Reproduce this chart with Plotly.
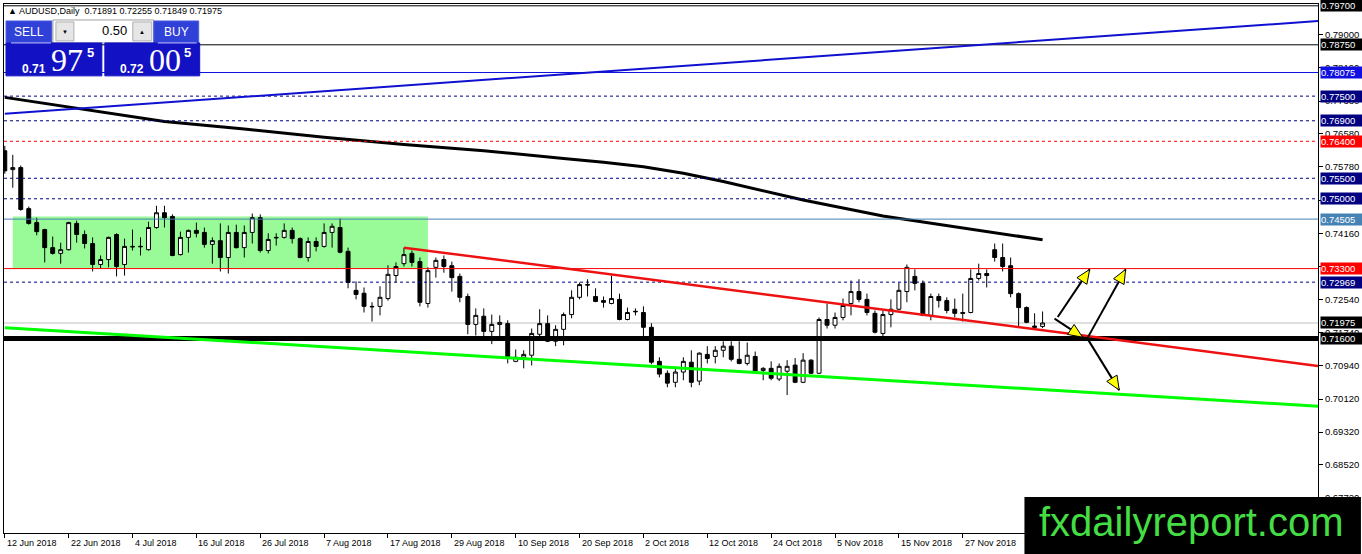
"""AUDUSD daily chart, MT4 style: candles, 200 MA, trend lines and levels."""

import pandas as pd
import plotly.graph_objects as go

# ── Data ────────────────────────────────────────────────────────────
dates = pd.bdate_range("2018-06-12", periods=131)

opens = [
    0.7617, 0.7571, 0.7576, 0.7476, 0.7442, 0.7425, 0.7381, 0.7367, 0.7376, 0.7440,
    0.7413, 0.7391, 0.7340, 0.7352, 0.7413, 0.7340, 0.7384, 0.7383, 0.7376, 0.7430,
    0.7466, 0.7457, 0.7364, 0.7406, 0.7423, 0.7418, 0.7389, 0.7398, 0.7357, 0.7418,
    0.7381, 0.7418, 0.7454, 0.7374, 0.7406, 0.7406, 0.7423, 0.7403, 0.7357, 0.7396,
    0.7384, 0.7418, 0.7430, 0.7372, 0.7277, 0.7270, 0.7238, 0.7238, 0.7257, 0.7313,
    0.7342, 0.7367, 0.7347, 0.7245, 0.7333, 0.7352, 0.7337, 0.7311, 0.7262, 0.7194,
    0.7214, 0.7177, 0.7194, 0.7196, 0.7104, 0.7114, 0.7119, 0.7170, 0.7196, 0.7153,
    0.7182, 0.7218, 0.7260, 0.7291, 0.7262, 0.7252, 0.7245, 0.7255, 0.7206, 0.7226,
    0.7223, 0.7187, 0.7104, 0.7075, 0.7053, 0.7078, 0.7102, 0.7056, 0.7121, 0.7116,
    0.7131, 0.7141, 0.7109, 0.7099, 0.7116, 0.7082, 0.7087, 0.7061, 0.7080, 0.7095,
    0.7053, 0.7107, 0.7075, 0.7206, 0.7192, 0.7211, 0.7245, 0.7274, 0.7255, 0.7221,
    0.7172, 0.7218, 0.7231, 0.7274, 0.7311, 0.7294, 0.7216, 0.7262, 0.7252, 0.7231,
    0.7223, 0.7223, 0.7306, 0.7318, 0.7376, 0.7357, 0.7337, 0.7269, 0.7235, 0.7190,
    0.71891,
]
highs = [
    0.7629, 0.7607, 0.7581, 0.7481, 0.7454, 0.7427, 0.7408, 0.7393, 0.7444, 0.7447,
    0.7423, 0.7406, 0.7362, 0.7408, 0.7416, 0.7403, 0.7425, 0.7406, 0.7444, 0.7483,
    0.7483, 0.7462, 0.7420, 0.7425, 0.7442, 0.7430, 0.7406, 0.7440, 0.7435, 0.7437,
    0.7435, 0.7464, 0.7462, 0.7416, 0.7416, 0.7440, 0.7430, 0.7406, 0.7406, 0.7406,
    0.7440, 0.7440, 0.7452, 0.7381, 0.7299, 0.7284, 0.7248, 0.7287, 0.7338, 0.7345,
    0.7381, 0.7374, 0.7357, 0.7333, 0.7357, 0.7362, 0.7347, 0.7318, 0.7269, 0.7233,
    0.7233, 0.7218, 0.7216, 0.7204, 0.7133, 0.7131, 0.7184, 0.7231, 0.7216, 0.7192,
    0.7223, 0.7277, 0.7296, 0.7304, 0.7282, 0.7262, 0.7313, 0.7269, 0.7235, 0.7233,
    0.7238, 0.7197, 0.7114, 0.7082, 0.7087, 0.7114, 0.7131, 0.7126, 0.7141, 0.7141,
    0.7153, 0.7153, 0.7153, 0.7150, 0.7128, 0.7090, 0.7104, 0.7099, 0.7107, 0.7112,
    0.7124, 0.7109, 0.7211, 0.7245, 0.7223, 0.7257, 0.7301, 0.7304, 0.7269, 0.7228,
    0.7228, 0.7255, 0.7296, 0.7340, 0.7328, 0.7301, 0.7269, 0.7269, 0.7260, 0.7257,
    0.7269, 0.7328, 0.7342, 0.7328, 0.7391, 0.7391, 0.7357, 0.7272, 0.7238, 0.7221,
    0.72255,
]
lows = [
    0.7561, 0.7527, 0.7471, 0.7437, 0.7411, 0.7345, 0.7364, 0.7342, 0.7374, 0.7393,
    0.7379, 0.7323, 0.7330, 0.7333, 0.7311, 0.7313, 0.7374, 0.7362, 0.7374, 0.7427,
    0.7430, 0.7360, 0.7362, 0.7369, 0.7406, 0.7381, 0.7342, 0.7323, 0.7318, 0.7379,
    0.7357, 0.7391, 0.7369, 0.7367, 0.7386, 0.7403, 0.7391, 0.7355, 0.7347, 0.7372,
    0.7381, 0.7381, 0.7367, 0.7282, 0.7255, 0.7223, 0.7201, 0.7216, 0.7252, 0.7296,
    0.7335, 0.7335, 0.7238, 0.7235, 0.7308, 0.7320, 0.7274, 0.7248, 0.7170, 0.7167,
    0.7165, 0.7146, 0.7163, 0.7099, 0.7102, 0.7087, 0.7094, 0.7155, 0.7151, 0.7141,
    0.7143, 0.7209, 0.7255, 0.7262, 0.7248, 0.7235, 0.7243, 0.7204, 0.7204, 0.7216,
    0.7163, 0.7097, 0.7065, 0.7041, 0.7041, 0.7058, 0.7041, 0.7046, 0.7099, 0.7099,
    0.7114, 0.7104, 0.7097, 0.7094, 0.7078, 0.7058, 0.7058, 0.7056, 0.7022, 0.7051,
    0.7051, 0.7073, 0.7073, 0.7184, 0.7184, 0.7204, 0.7216, 0.7248, 0.7216, 0.7172,
    0.7165, 0.7187, 0.7228, 0.7248, 0.7277, 0.7214, 0.7204, 0.7235, 0.7221, 0.7211,
    0.7201, 0.7221, 0.7301, 0.7284, 0.7347, 0.7323, 0.7260, 0.7187, 0.7197, 0.7184,
    0.71849,
]
closes = [
    0.7568, 0.7576, 0.7474, 0.7440, 0.7420, 0.7381, 0.7367, 0.7376, 0.7442, 0.7413,
    0.7391, 0.7340, 0.7352, 0.7406, 0.7335, 0.7384, 0.7383, 0.7384, 0.7430, 0.7466,
    0.7454, 0.7362, 0.7406, 0.7423, 0.7416, 0.7389, 0.7398, 0.7357, 0.7418, 0.7381,
    0.7418, 0.7454, 0.7374, 0.7401, 0.7405, 0.7423, 0.7403, 0.7357, 0.7396, 0.7384,
    0.7418, 0.7433, 0.7370, 0.7296, 0.7267, 0.7238, 0.7237, 0.7260, 0.7316, 0.7335,
    0.7364, 0.7345, 0.7248, 0.7325, 0.7350, 0.7335, 0.7308, 0.7260, 0.7194, 0.7216,
    0.7177, 0.7194, 0.7199, 0.7111, 0.7114, 0.7121, 0.7172, 0.7196, 0.7153, 0.7182,
    0.7218, 0.7260, 0.7291, 0.7290, 0.7250, 0.7248, 0.7257, 0.7206, 0.7223, 0.7225,
    0.7187, 0.7102, 0.7073, 0.7051, 0.7078, 0.7104, 0.7053, 0.7124, 0.7111, 0.7131,
    0.7141, 0.7109, 0.7099, 0.7119, 0.7080, 0.7087, 0.7063, 0.7092, 0.7092, 0.7053,
    0.7107, 0.7075, 0.7206, 0.7192, 0.7211, 0.7240, 0.7274, 0.7255, 0.7223, 0.7175,
    0.7218, 0.7231, 0.7277, 0.7333, 0.7294, 0.7216, 0.7262, 0.7252, 0.7228, 0.7221,
    0.7221, 0.7306, 0.7318, 0.7313, 0.7357, 0.7335, 0.7269, 0.7235, 0.7199, 0.7187,
    0.71975,
]

tick_bars = [0, 8, 16, 24, 32, 40, 48, 56, 64, 72, 80, 88, 96, 104, 112, 120]
tick_labels = [
    "12 Jun 2018", "22 Jun 2018", "4 Jul 2018", "16 Jul 2018", "26 Jul 2018",
    "7 Aug 2018", "17 Aug 2018", "29 Aug 2018", "10 Sep 2018", "20 Sep 2018",
    "2 Oct 2018", "12 Oct 2018", "24 Oct 2018", "5 Nov 2018", "15 Nov 2018",
    "27 Nov 2018",
]

# moving average at these bars
ma_bars = [0, 10, 20, 30, 40, 50, 60, 70, 75, 80, 85, 90, 100, 110, 120, 130]
ma_values = [0.7747, 0.7717, 0.7688, 0.7670, 0.7650, 0.7632, 0.7617, 0.7598,
             0.7589, 0.7578, 0.7562, 0.7542, 0.7497, 0.7458, 0.7429, 0.7400]

y_ticks = [0.79000, 0.78190, 0.77380, 0.76580, 0.75780, 0.74970, 0.74160, 0.73350,
           0.72540, 0.71740, 0.70940, 0.70120, 0.69320, 0.68520, 0.67720]

levels = [0.79700, 0.78750, 0.78075, 0.77500, 0.76900, 0.76400, 0.75500,
          0.75000, 0.74505, 0.73300, 0.72969, 0.71975, 0.71600]
level_colors = ["#000000", "#000000", "#1010e0", "#000080", "#000080", "#ff0000",
                "#000080", "#000080", "#4682b4", "#ff0000", "#000080", "#c0c0c0",
                "#000000"]
level_label_bg = ["#000000", "#000000", "#1010e0", "#000080", "#000080", "#ff0000",
                  "#000080", "#000080", "#4682b4", "#ff0000", "#000080", "#000000",
                  "#000000"]
level_dash = ["solid", "solid", "solid", "3px,3px", "3px,3px", "3px,3px", "3px,3px",
              "3px,3px", "solid", "solid", "3px,3px", "solid", "solid"]
level_width = [1, 1, 1, 1, 1, 1, 1, 1, 1, 1, 1, 1, 5]

box_bars = [1, 53]
box_prices = [0.7330, 0.7457]

blue_bars, blue_prices = [0, 164.5], [0.7707, 0.7933]
red_bars, red_prices = [50, 164.5], [0.7381, 0.7093]
green_bars, green_prices = [0, 164.5], [0.7186, 0.6995]

# arrows: start bar, start price, end bar, end price
arrows = [
    (131.5, 0.7208, 135.0, 0.7163),
    (131.9, 0.7212, 135.9, 0.7328),
    (135.6, 0.7160, 140.4, 0.7328),
    (135.6, 0.7160, 139.6, 0.7034),
]

header = "▲ AUDUSD,Daily  0.71891 0.72255 0.71849 0.71975"

# ── Geometry ────────────────────────────────────────────────────────
W, H = 1362, 554
ML, MR, MT, MB = 3, 43, 3, 21
PW, PH = W - ML - MR, H - MT - MB
X_RANGE = [-0.1, 164.5]
Y_RANGE = [0.66860, 0.79744]
BAR_PX = PW / (X_RANGE[1] - X_RANGE[0])
PRICE_PX = PH / (Y_RANGE[1] - Y_RANGE[0])
FONT = "Liberation Sans"


def px_x(x):
    return (x - ML) / PW


def px_y(y):
    return (H - MB - y) / PH


def to_px(i, p):
    return ML + (i - X_RANGE[0]) * BAR_PX, MT + (Y_RANGE[1] - p) * PRICE_PX


def to_data(x, y):
    return X_RANGE[0] + (x - ML) / BAR_PX, Y_RANGE[1] - (y - MT) / PRICE_PX


bars = list(range(len(opens)))

fig = go.Figure()

fig.add_trace(
    go.Candlestick(
        x=bars,
        open=opens,
        high=highs,
        low=lows,
        close=closes,
        text=[d.strftime("%d %b %Y") for d in dates],
        increasing={"line": {"color": "#000000", "width": 1}, "fillcolor": "#ffffff"},
        decreasing={"line": {"color": "#000000", "width": 1}, "fillcolor": "#000000"},
        showlegend=False,
    )
)

fig.add_trace(
    go.Scatter(
        x=ma_bars,
        y=ma_values,
        mode="lines",
        line={"color": "#000000", "width": 3},
        showlegend=False,
        hoverinfo="skip",
    )
)

shapes = []

# consolidation box behind the candles
shapes.append(dict(type="rect", xref="x", yref="y", x0=box_bars[0], x1=box_bars[1],
                   y0=box_prices[0], y1=box_prices[1], fillcolor="#98fb98",
                   line={"width": 0}, layer="below"))

# horizontal levels
for lvl, col, dash, wid in zip(levels, level_colors, level_dash, level_width):
    shapes.append(dict(type="line", xref="paper", yref="y", x0=0, x1=1, y0=lvl, y1=lvl,
                       line={"color": col, "width": wid, "dash": dash},
                       layer="below" if col == "#c0c0c0" else "above"))

# trend lines
for bx, py, col, wid in [
    (blue_bars, blue_prices, "#1010d0", 2),
    (red_bars, red_prices, "#ee1111", 2.5),
    (green_bars, green_prices, "#00ff00", 3),
]:
    shapes.append(dict(type="line", xref="x", yref="y", x0=bx[0], x1=bx[1],
                       y0=py[0], y1=py[1], line={"color": col, "width": wid},
                       layer="above"))

# arrows: black shaft + yellow head
for i0, p0, i1, p1 in arrows:
    shapes.append(dict(type="line", xref="x", yref="y", x0=i0, y0=p0, x1=i1, y1=p1,
                       line={"color": "#000000", "width": 2}, layer="above"))
    xa, ya = to_px(i0, p0)
    xb, yb = to_px(i1, p1)
    length = ((xb - xa) ** 2 + (yb - ya) ** 2) ** 0.5
    ux, uy = (xb - xa) / length, (yb - ya) / length
    head_len, half_w = 14, 6
    bx0, by0 = xb - ux * head_len, yb - uy * head_len
    pts = [(xb, yb), (bx0 - uy * half_w, by0 + ux * half_w),
           (bx0 + uy * half_w, by0 - ux * half_w)]
    pts = [to_data(x, y) for x, y in pts]
    path = "M {} {} L {} {} L {} {} Z".format(*[v for pt in pts for v in pt])
    shapes.append(dict(type="path", xref="x", yref="y", path=path,
                       fillcolor="#ffff00", line={"color": "#000000", "width": 1},
                       layer="above"))

# one-click trading panel
panel = [
    (5, 20, 51, 42, "#3041d8", "#5060e0"),
    (52, 19, 153, 42, "#ffffff", "#a0a0a0"),
    (55, 21, 73, 40, "#e6e6e6", "#b0b0b0"),
    (132, 21, 151, 40, "#e6e6e6", "#b0b0b0"),
    (153, 20, 198, 42, "#3041d8", "#5060e0"),
    (5, 42, 101, 75, "#1212c4", "#1212c4"),
    (104, 42, 199, 75, "#1212c4", "#1212c4"),
]
for x0, y0, x1, y1, fill, edge in panel:
    shapes.append(dict(type="rect", xref="paper", yref="paper", x0=px_x(x0), x1=px_x(x1),
                       y0=px_y(y1), y1=px_y(y0), fillcolor=fill,
                       line={"color": edge, "width": 1}, layer="above"))
for x0, x1 in [(10, 50), (157, 196)]:
    shapes.append(dict(type="line", xref="paper", yref="paper", x0=px_x(x0), x1=px_x(x1),
                       y0=px_y(42), y1=px_y(42), line={"color": "#c8ccff", "width": 1},
                       layer="above"))

# watermark box
shapes.append(dict(type="rect", xref="paper", yref="paper", x0=px_x(1025), x1=px_x(1362),
                   y0=px_y(554), y1=px_y(497), fillcolor="#000000",
                   line={"width": 0}, layer="above"))

annotations = []

for lbl, tb in zip(tick_labels, tick_bars):
    annotations.append(dict(x=tb, y=0, xref="x", yref="paper", text=lbl,
                            showarrow=False, xanchor="left", yanchor="top",
                            xshift=0, yshift=-3,
                            font={"family": FONT, "size": 9, "color": "#000000"}))

for lvl, bg in zip(levels, level_label_bg):
    annotations.append(dict(x=1, y=lvl, xref="paper", yref="y", text=f"{lvl:.5f}",
                            showarrow=False, xanchor="left", yanchor="middle",
                            xshift=2, width=41, height=11, align="left",
                            bgcolor=bg, borderpad=0,
                            font={"family": FONT, "size": 9.5, "color": "#ffffff"}))


def text_at(x, y, txt, size, color="#ffffff", anchor="left", bold=False,
            family=FONT):
    if bold:
        txt = f"<b>{txt}</b>"
    annotations.append(dict(x=px_x(x), y=px_y(y), xref="paper", yref="paper", text=txt,
                            showarrow=False, xanchor=anchor, yanchor="middle",
                            font={"family": family, "size": size, "color": color}))


text_at(5, 10, header, 9, color="#000000")
text_at(28, 31, "SELL", 12, anchor="center")
text_at(176, 31, "BUY", 12, anchor="center")
text_at(128, 30, "0.50", 13, color="#000000", anchor="right")
text_at(64, 31, "▼", 6, color="#000000", anchor="center")
text_at(141, 31, "▲", 6, color="#000000", anchor="center")
text_at(19, 68, "0.71", 12, bold=True)
text_at(48, 59, "97", 32, family="Liberation Sans Narrow")
text_at(84, 52, "5", 13, bold=True)
text_at(117, 68, "0.72", 12, bold=True)
text_at(146, 59, "00", 32, family="Liberation Sans Narrow")
text_at(181, 52, "5", 13, bold=True)
text_at(1192, 522, "fxdailyreport.com", 40, color="#44dd44", anchor="center")

fig.update_layout(
    width=W,
    height=H,
    margin={"l": ML, "r": MR, "t": MT, "b": MB},
    paper_bgcolor="#ffffff",
    plot_bgcolor="#ffffff",
    shapes=shapes,
    annotations=annotations,
    showlegend=False,
    font={"family": FONT, "size": 9, "color": "#000000"},
)
fig.update_xaxes(
    range=X_RANGE,
    rangeslider_visible=False,
    showgrid=False,
    zeroline=False,
    showline=True,
    linecolor="#000000",
    linewidth=1,
    mirror=True,
    tickvals=tick_bars,
    ticks="outside",
    ticklen=4,
    tickcolor="#000000",
    showticklabels=False,
)
fig.update_yaxes(
    range=Y_RANGE,
    side="right",
    showgrid=False,
    zeroline=False,
    showline=True,
    linecolor="#000000",
    linewidth=1,
    mirror=True,
    tickvals=y_ticks,
    ticktext=[f"{v:.5f}" for v in y_ticks],
    ticks="outside",
    ticklen=4,
    tickcolor="#000000",
    tickfont={"family": FONT, "size": 9.5, "color": "#000000"},
)

# the page body has a default 8px margin; drop it so the chart sits at 0,0
fig.write_html(
    "out.html",
    config={"displayModeBar": False},
    post_script="document.body.style.margin='0';",
)
